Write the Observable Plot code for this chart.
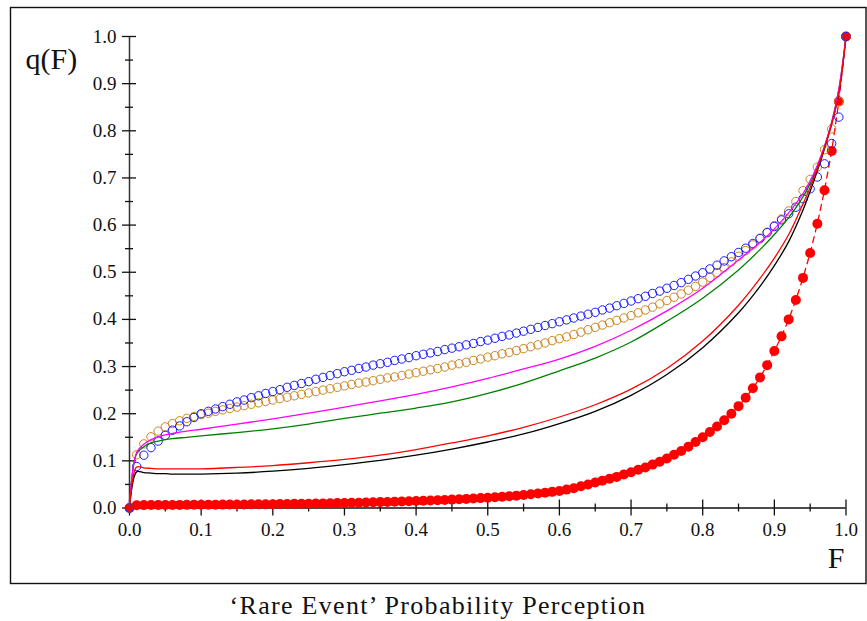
<!DOCTYPE html>
<html>
<head>
<meta charset="utf-8">
<script src="https://cdn.jsdelivr.net/npm/d3@7"></script>
<script src="https://cdn.jsdelivr.net/npm/@observablehq/plot@0.6"></script>
<style>
  body { margin: 0; background: #fff; }
  #chart svg { display: block; }
  #chart svg text { font-family: "Liberation Serif", "Times New Roman", "DejaVu Serif", serif; }
  #caption {
    width: 867px; box-sizing: border-box; padding-left: 9px; padding-top: 1px;
    text-align: center; font-family: "Liberation Serif", "Times New Roman", "DejaVu Serif", serif;
    font-size: 26px; letter-spacing: 1.3px; color: #111; line-height: 30px;
  }
</style>
</head>
<body>
<div id="chart"></div>
<div id="caption">‘Rare Event’ Probability Perception</div>
<script>
// ---------- data ----------
const fGrid = [0,0.01,0.02,0.03,0.04,0.05,0.06,0.07,0.08,0.09,0.10,0.11,0.12,0.13,0.14,0.15,0.16,0.17,0.18,0.19,0.20,
  0.21,0.22,0.23,0.24,0.25,0.26,0.27,0.28,0.29,0.30,0.31,0.32,0.33,0.34,0.35,0.36,0.37,0.38,0.39,0.40,
  0.41,0.42,0.43,0.44,0.45,0.46,0.47,0.48,0.49,0.50,0.51,0.52,0.53,0.54,0.55,0.56,0.57,0.58,0.59,0.60,
  0.61,0.62,0.63,0.64,0.65,0.66,0.67,0.68,0.69,0.70,0.71,0.72,0.73,0.74,0.75,0.76,0.77,0.78,0.79,0.80,
  0.81,0.82,0.83,0.84,0.85,0.86,0.87,0.88,0.89,0.90,0.91,0.92,0.93,0.94,0.95,0.96,0.97,0.98,0.99,1.00];

// red filled dots (with dashed connecting line)
const redDotsQ = [0,.0060,.0061,.0062,.0063,.0064,.0065,.0066,.0067,.0068,.0069,
  .0070,.0071,.0072,.0073,.0074,.0076,.0077,.0079,.0080,.0082,
  .0084,.0086,.0088,.0090,.0092,.0095,.0098,.0101,.0104,.0107,
  .0110,.0113,.0117,.0121,.0125,.0129,.0133,.0138,.0143,.0148,
  .0153,.0159,.0165,.0171,.0178,.0185,.0193,.0201,.0210,.0219,
  .0229,.0239,.0250,.0262,.0275,.0290,.0307,.0325,.0342,.0360,
  .039,.042,.046,.050,.054,.058,.062,.066,.071,.076,
  .081,.086,.092,.098,.105,.113,.121,.130,.140,.150,
  .161,.173,.186,.200,.216,.234,.254,.277,.303,.333,
  .364,.400,.441,.488,.541,.603,.674,.757,.862,1.0];

// blue open circles
const blueQ = [0,.088,.112,.128,.142,.154,.165,.174,.183,.192,.200,
  .205,.210,.215,.220,.225,.229,.234,.238,.243,.247,
  .251,.256,.260,.264,.268,.273,.277,.281,.285,.289,
  .292,.296,.299,.303,.306,.309,.313,.316,.319,.323,
  .326,.329,.332,.336,.339,.342,.346,.349,.353,.356,
  .360,.364,.367,.371,.375,.379,.383,.387,.391,.395,
  .399,.403,.407,.411,.415,.420,.424,.429,.434,.439,
  .444,.449,.455,.460,.466,.472,.478,.485,.492,.499,
  .507,.515,.524,.533,.542,.551,.561,.572,.584,.597,
  .611,.624,.638,.656,.677,.702,.730,.773,.829,1.0];

// orange open circles
const orangeQ = [0,.113,.136,.151,.163,.172,.179,.185,.190,.194,.198,
  .201,.205,.208,.211,.214,.217,.220,.223,.226,.229,
  .232,.235,.238,.241,.244,.247,.250,.253,.256,.259,
  .262,.265,.267,.270,.273,.276,.278,.281,.284,.287,
  .290,.293,.296,.299,.303,.306,.309,.313,.316,.320,
  .323,.327,.330,.334,.338,.342,.346,.350,.355,.359,
  .363,.368,.373,.378,.383,.388,.393,.398,.403,.408,
  .414,.420,.426,.433,.440,.447,.454,.462,.470,.479,
  .489,.499,.510,.522,.534,.546,.558,.571,.585,.599,
  .613,.630,.650,.673,.697,.723,.760,.804,.862,1.0];

// solid curves
const lineF = [0,0.01,0.02,0.03,0.04,0.05,0.06,0.08,0.10,0.15,0.20,0.25,0.30,0.35,0.40,0.45,0.50,
  0.55,0.60,0.65,0.70,0.75,0.80,0.85,0.88,0.90,0.92,0.94,0.95,0.96,0.97,0.98,0.99,1.00];
const magentaQ = [0,.118,.135,.145,.151,.155,.158,.163,.167,.178,.189,.201,.214,.227,.241,.257,.275,
  .295,.316,.343,.377,.418,.466,.526,.563,.592,.626,.667,.694,.727,.768,.818,.888,1.0];
const greenQ = [0,.115,.130,.138,.142,.145,.147,.150,.153,.160,.168,.178,.190,.201,.212,.225,.243,
  .265,.291,.318,.352,.396,.445,.505,.548,.580,.616,.660,.688,.722,.765,.818,.888,1.0];
const redQ = [0,.087,.085,.084,.083,.083,.083,.083,.083,.086,.090,.096,.103,.112,.124,.138,.153,
  .171,.193,.219,.252,.296,.354,.430,.487,.530,.580,.645,.680,.720,.765,.815,.880,1.0];
const blackQ = [0,.077,.075,.074,.073,.073,.072,.072,.072,.074,.078,.084,.092,.101,.112,.125,.140,
  .157,.179,.205,.239,.283,.340,.414,.470,.514,.565,.632,.672,.715,.762,.815,.880,1.0];

const majorTicks = [0,0.1,0.2,0.3,0.4,0.5,0.6,0.7,0.8,0.9,1.0];
const minorTicks = [0.05,0.15,0.25,0.35,0.45,0.55,0.65,0.75,0.85,0.95];
const tickLabels = ["0.0","0.1","0.2","0.3","0.4","0.5","0.6","0.7","0.8","0.9","1.0"];

// ---------- build tables ----------
const pts = (fs, qs) => fs.map((F, i) => ({F, q: qs[i]}));
const redDots = pts(fGrid, redDotsQ);
const blue = pts(fGrid, blueQ);
const orange = pts(fGrid, orangeQ);
const magenta = pts(lineF, magentaQ);
const green = pts(lineF, greenQ);
const redLine = pts(lineF, redQ);
const black = pts(lineF, blackQ);
const labels = majorTicks.map((v, i) => ({v, t: tickLabels[i]}));

const W = 867, H = 590, ML = 129, MR = 21.5, MT = 36, MB = 82.5;
const PW = W - ML - MR, PH = H - MT - MB;
const serif = '"Liberation Serif", "Times New Roman", "DejaVu Serif", serif';

const chart = Plot.plot({
  width: W, height: H,
  marginLeft: ML, marginRight: MR, marginTop: MT, marginBottom: MB,
  x: {domain: [0, 1], axis: null},
  y: {domain: [0, 1], axis: null},
  style: {fontFamily: serif, background: "white", color: "#111"},
  marks: [
    Plot.frame({stroke: "#111", strokeWidth: 1.4, insetLeft: -119, insetTop: -29, insetRight: -20, insetBottom: -75.5}),
    // axes
    Plot.ruleX([0], {y1: 0, y2: 1, stroke: "#333", strokeWidth: 1.5}),
    Plot.ruleY([0], {x1: 0, x2: 1, stroke: "#111", strokeWidth: 1.4}),
    Plot.tickY(majorTicks, {y: d => d, insetLeft: -7, insetRight: PW - 7, stroke: "#111", strokeWidth: 1.3}),
    Plot.tickY(minorTicks, {y: d => d, insetLeft: -4, insetRight: PW - 4, stroke: "#111", strokeWidth: 1.3}),
    Plot.tickX(majorTicks, {x: d => d, insetTop: PH - 8, insetBottom: -8, stroke: "#111", strokeWidth: 1.3}),
    Plot.tickX(minorTicks, {x: d => d, insetTop: PH - 4, insetBottom: -4, stroke: "#111", strokeWidth: 1.3}),
    Plot.text(labels, {x: 0, y: "v", text: "t", textAnchor: "end", dx: -13, fontSize: 19, fontFamily: serif}),
    Plot.text(labels, {x: "v", y: 0, text: "t", dy: 22, fontSize: 19, fontFamily: serif}),
    Plot.text(["q(F)"], {frameAnchor: "top-left", textAnchor: "start", lineAnchor: "middle", dx: -104, dy: 23, fontSize: 30, fontFamily: serif}),
    Plot.text(["F"], {frameAnchor: "bottom-right", textAnchor: "middle", lineAnchor: "middle", dx: -10, dy: 50, fontSize: 30, fontFamily: serif}),
    // series
    Plot.line(redDots, {x: "F", y: "q", stroke: "red", strokeWidth: 1.3, strokeDasharray: "6,5"}),
    Plot.dot(redDots, {x: "F", y: "q", r: 5, fill: "red", stroke: "none"}),
    Plot.dot(orange, {x: "F", y: "q", r: 4.2, fill: "none", stroke: "#cc8420", strokeWidth: 1}),
    Plot.dot(blue, {x: "F", y: "q", r: 4.2, fill: "none", stroke: "#1a1aff", strokeWidth: 1}),
    Plot.line(black, {x: "F", y: "q", stroke: "black", strokeWidth: 1.3, curve: "catmull-rom"}),
    Plot.line(green, {x: "F", y: "q", stroke: "#008000", strokeWidth: 1.3, curve: "catmull-rom"}),
    Plot.line(magenta, {x: "F", y: "q", stroke: "#ff00ff", strokeWidth: 1.3, curve: "catmull-rom"}),
    Plot.line(redLine, {x: "F", y: "q", stroke: "red", strokeWidth: 1.3, curve: "catmull-rom"})
  ]
});
document.getElementById("chart").appendChild(chart);
</script>
</body>
</html>
